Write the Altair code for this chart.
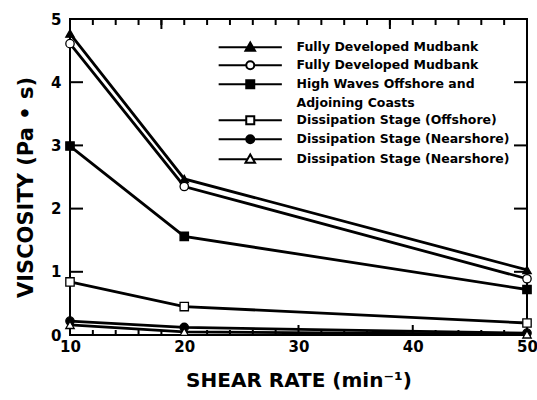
import altair as alt
import pandas as pd

# ---- data ----
shear_rates = [10, 20, 50]
series_keys = ["fdm_tri", "fdm_circ", "hw", "ds_off", "ds_near_circ", "ds_near_tri"]
series_labels = [
    "Fully Developed Mudbank",
    "Fully Developed Mudbank",
    "High Waves Offshore and|Adjoining Coasts",
    "Dissipation Stage (Offshore)",
    "Dissipation Stage (Nearshore)",
    "Dissipation Stage (Nearshore)",
]
visc_fdm_tri = [4.77, 2.47, 1.03]
visc_fdm_circ = [4.61, 2.35, 0.89]
visc_hw = [2.99, 1.56, 0.72]
visc_ds_off = [0.84, 0.45, 0.19]
visc_ds_near_circ = [0.22, 0.12, 0.03]
visc_ds_near_tri = [0.16, 0.05, 0.01]

point_shapes = ["triangle-up", "circle", "square", "square", "circle", "triangle-up"]
point_fills = ["black", "white", "black", "white", "black", "white"]
legend_paths = [
    "M-7.9,0H7.9M0,-1.2L1.2,0.9H-1.2Z",
    "M-7.9,0H-1M1,0H7.9M1,0A1,1,0,1,1,-1,0A1,1,0,1,1,1,0Z",
    "M-7.9,0H7.9M-1,-1H1V1H-1Z",
    "M-7.9,0H-1M1,0H7.9M-1,-1H1V1H-1Z",
    "M-7.9,0H7.9M1,0A1,1,0,1,1,-1,0A1,1,0,1,1,1,0Z",
    "M-7.9,0H-0.7M0.7,0H7.9M0,-1.2L1.2,0.9H-1.2Z",
]

# axis labels and tick positions
x_label_values = [10, 20, 30, 40, 50]
y_label_values = [0, 1, 2, 3, 4, 5]
y_tick_values = [1, 2, 3, 4]
x_top_minor = [v for v in range(12, 50, 2)]
x_top_major = [18, 38]
x_bottom_minor = [v for v in x_top_minor if v not in (20, 30, 40)]
x_bottom_major = [20, 30, 40]

all_values = [visc_fdm_tri, visc_fdm_circ, visc_hw, visc_ds_off,
              visc_ds_near_circ, visc_ds_near_tri]
rows = []
for key, vals in zip(series_keys, all_values):
    for s, v in zip(shear_rates, vals):
        rows.append({"key": key, "shear": s, "visc": v})
df = pd.DataFrame(rows)

W, H = 457, 316
FONT = "DejaVu Sans"
xs = alt.Scale(domain=[10, 50], nice=False, zero=False)
ys = alt.Scale(domain=[0, 5], nice=False, zero=True)

label_expr = "split(" + "".join(
    f"datum.value === '{k}' ? '{l}' : " for k, l in zip(series_keys, series_labels)
) + "'', '|')"

legend = alt.Legend(
    orient="none", legendX=174, legendY=22, title=None, labelExpr=label_expr,
    symbolSize=64, symbolStrokeWidth=2, symbolOpacity=1,
    labelFont=FONT, labelFontSize=12.5, labelFontWeight="bold", labelColor="black",
    labelOffset=40, labelLimit=400, padding=0, rowPadding=2,
)


def x_ticks(values, y_from, y_to):
    return alt.Chart(pd.DataFrame({"shear": values})).mark_rule(
        color="black", strokeWidth=2).encode(
        x=alt.X("shear:Q", scale=xs, axis=None),
        y=alt.value(y_from), y2=alt.value(y_to))


def y_ticks(values, x_from, x_to):
    return alt.Chart(pd.DataFrame({"visc": values})).mark_rule(
        color="black", strokeWidth=2).encode(
        y=alt.Y("visc:Q", scale=ys, axis=None),
        x=alt.value(x_from), x2=alt.value(x_to))


ticks = [
    x_ticks(x_top_minor, 0, 6),
    x_ticks(x_top_major, 0, 10),
    x_ticks(x_bottom_minor, H, H - 5),
    x_ticks(x_bottom_major, H, H - 10),
    y_ticks(y_tick_values, 0, 13),
    y_ticks(y_tick_values, W, W - 13),
]

base = alt.Chart(df)

lines = base.mark_line(color="black", strokeWidth=2.8).encode(
    x=alt.X("shear:Q", scale=xs, axis=alt.Axis(
        orient="bottom", values=x_label_values, ticks=False, domain=False, grid=False,
        labelFont=FONT, labelFontSize=15, labelFontWeight="bold", labelColor="black",
        labelPadding=4, labelFlush=False, labelOverlap=False,
        title="SHEAR RATE (min⁻¹)", titleFont=FONT, titleFontSize=20,
        titleFontWeight="bold", titleColor="black", titlePadding=16)),
    y=alt.Y("visc:Q", scale=ys, axis=alt.Axis(
        orient="left", values=y_label_values, ticks=False, domain=False, grid=False,
        labelFont=FONT, labelFontSize=15, labelFontWeight="bold", labelColor="black",
        labelPadding=9, labelOverlap=False,
        title="VISCOSITY (Pa • s)", titleFont=FONT, titleFontSize=21,
        titleFontWeight="bold", titleColor="black", titlePadding=14, titleY=168)),
    detail="key:N",
)

# one point layer per series, shape and fill given as constants
point_layers = [
    base.transform_filter(alt.datum.key == k).mark_point(
        shape=shp, filled=True, fill=fc, size=70, stroke="black", strokeWidth=1.3,
        opacity=1).encode(
        x=alt.X("shear:Q", scale=xs, axis=None),
        y=alt.Y("visc:Q", scale=ys, axis=None))
    for k, shp, fc in zip(series_keys, point_shapes, point_fills)
]

leg = base.mark_point(filled=True, opacity=0).encode(
    x=alt.X("shear:Q", scale=xs, axis=None),
    y=alt.Y("visc:Q", scale=ys, axis=None),
    shape=alt.Shape("key:N", scale=alt.Scale(domain=series_keys, range=legend_paths),
                    legend=legend),
    fill=alt.Fill("key:N", scale=alt.Scale(domain=series_keys, range=point_fills),
                  legend=legend),
    stroke=alt.Stroke("key:N", scale=alt.Scale(domain=series_keys,
                                               range=["black"] * len(series_keys)),
                      legend=legend),
)

chart = alt.layer(lines, *ticks, *point_layers, leg).resolve_axis(
    x="independent", y="independent"
).properties(
    width=W, height=H,
    autosize=alt.AutoSizeParams(type="none"),
    padding={"left": 70, "top": 19, "right": 10, "bottom": 65},
    background="white",
).configure(
    style={"guide-label": {"lineHeight": 18.3}}
).configure_view(stroke="black", strokeWidth=2)

chart.save("out.html", embed_options={"renderer": "svg", "actions": False})
